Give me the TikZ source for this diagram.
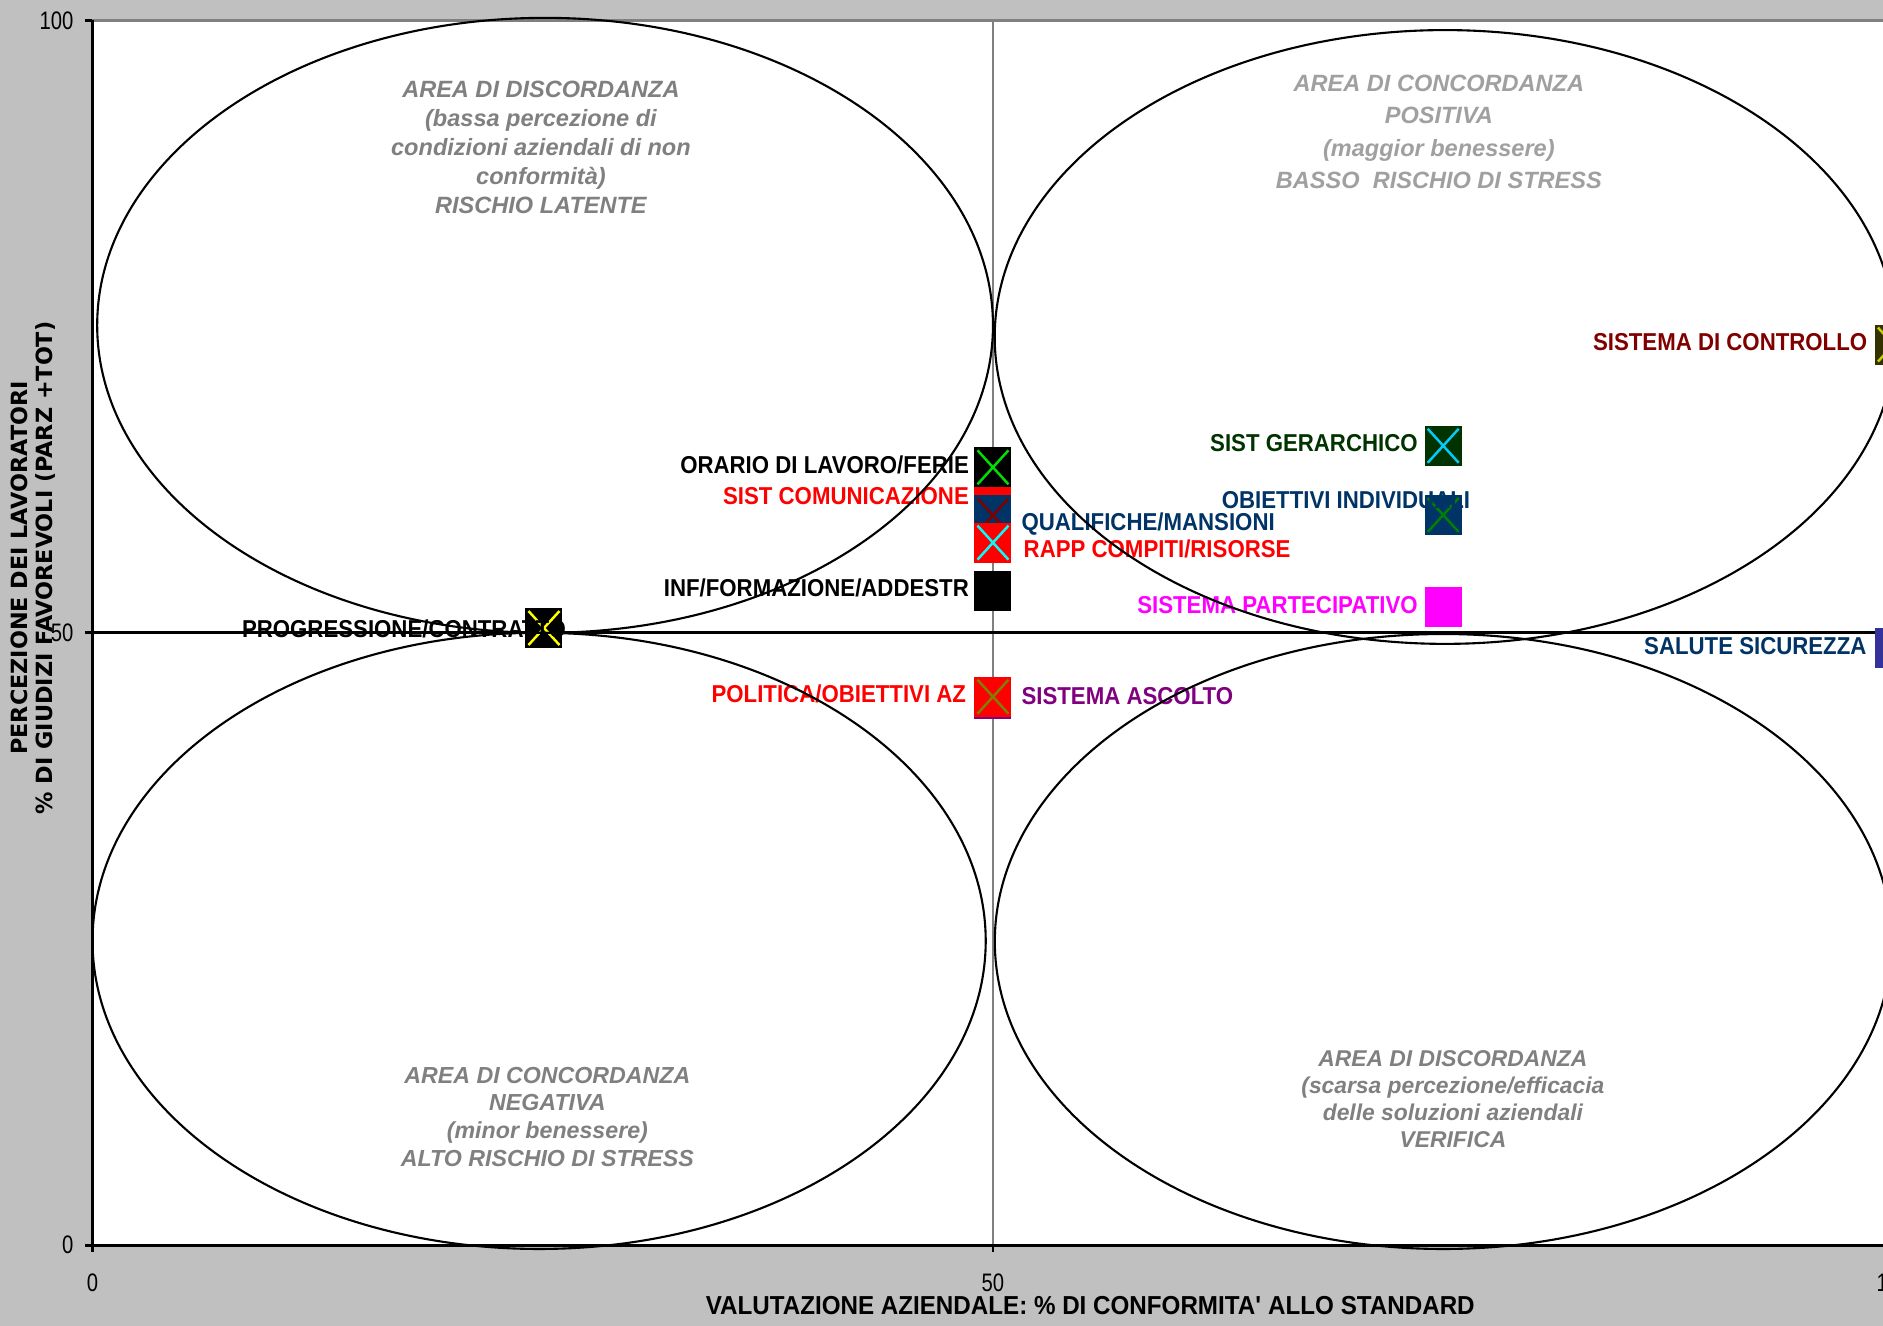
\documentclass[tikz,border=0pt]{standalone}
\usepackage{fontspec}
\setmainfont{Liberation Sans}
\newfontfamily\lblfont[FakeStretch=0.91]{Liberation Sans}
\newfontfamily\titlefontx[FakeStretch=0.93]{Liberation Sans}
\newfontfamily\tickfont[FakeStretch=0.8]{Liberation Sans}
\newfontfamily\titlefont{DejaVu Sans}
\usepackage{xcolor}
\usepackage{tikz}

\definecolor{bggray}{HTML}{C0C0C0}
\definecolor{axgray}{HTML}{808080}
\definecolor{txgray}{HTML}{808080}
\definecolor{txlight}{HTML}{A0A0A0}
\definecolor{navyb}{HTML}{003366}
\definecolor{dkgreen}{HTML}{003300}
\definecolor{dkred}{HTML}{800000}
\definecolor{purp}{HTML}{800080}
\definecolor{olivedk}{HTML}{333300}
\definecolor{olivex}{HTML}{808000}
\definecolor{bluesq}{HTML}{333399}
\definecolor{skyx}{HTML}{00CCFF}
\definecolor{greenx}{HTML}{00E000}
\definecolor{dkgreenx}{HTML}{008000}
\definecolor{redpt}{HTML}{FF0000}
\definecolor{magpt}{HTML}{FF00FF}
\definecolor{cyanx}{HTML}{00FFFF}
\definecolor{yellowx}{HTML}{FFFF00}
\definecolor{yellowdk}{HTML}{CCCC00}

\begin{document}
\begin{tikzpicture}[
    x=0.1801cm, y=0.1225cm,
    line width=0.6pt,
    lbl/.style={font=\lblfont\bfseries\fontsize{6.95}{8}\selectfont, inner sep=0pt, text height=0.175cm, text depth=0pt},
    pt/.style={fill=#1, draw=none, inner sep=0pt, minimum width=0.37cm, minimum height=0.40cm},
    xmk/.style={path picture={\draw[#1, line width=0.7pt]
        ([shift={(0.03cm,0.03cm)}]path picture bounding box.south west) -- ([shift={(-0.03cm,-0.03cm)}]path picture bounding box.north east)
        ([shift={(0.03cm,-0.03cm)}]path picture bounding box.north west) -- ([shift={(-0.03cm,0.03cm)}]path picture bounding box.south east);}},
    area/.style={align=center, inner sep=0pt, font=\bfseries\itshape\fontsize{6.7}{8.2}\selectfont},
    ticklbl/.style={font=\tickfont\fontsize{7.2}{8}\selectfont, inner sep=0pt}
  ]
    \useasboundingbox (-5.136,-6.588) rectangle (99.42,101.66);
    \fill[bggray] (-5.136,-6.588) rectangle (99.42,101.66);
    \fill[white] (0,0) rectangle (100,100);

    % grid and axes
    \draw[axgray, line width=0.55pt] (50,0) -- (50,100);
    \draw[axgray, line width=0.8pt] (0,100) -- (100,100);
    \draw[line width=0.75pt] (0,50) -- (100,50);
    \draw[line width=0.8pt] (0,100) -- (0,0) -- (100,0);
    \foreach \v in {0,50,100} {
      \draw[line width=0.8pt] (0,\v) -- (-0.44,\v);
      \draw[line width=0.8pt] (\v,0) -- (\v,-0.57);
      \node[ticklbl, anchor=east] (yt\v) at (-1.0,\v) {\v};
      \node[ticklbl] (xt\v) at (\v,-3.05) {\v};
    }

    % axis titles
    \node[font=\titlefontx\bfseries\fontsize{7.4}{8}\selectfont, inner sep=0pt] (xtitle) at (55.4,-4.9) {VALUTAZIONE AZIENDALE: \% DI CONFORMITA\textquotesingle\ ALLO STANDARD};
    \node[rotate=90, font=\titlefont\bfseries\fontsize{6.35}{7}\selectfont, inner sep=0pt] (ytitlea) at (-4.07,55.3) {PERCEZIONE DEI LAVORATORI};
    \node[rotate=90, font=\titlefont\bfseries\fontsize{6.35}{7}\selectfont, inner sep=0pt] (ytitleb) at (-2.60,55.3) {\% DI GIUDIZI FAVOREVOLI (PARZ +TOT)};

    % markers
    \node[pt=redpt] (comunic) at (50,60.24) {};
    \node[pt=navyb, xmk=dkred] (qualif) at (50,59.59) {};
    \node[pt=redpt, xmk=cyanx] (rapp) at (50,57.36) {};
    \node[pt=black, xmk=greenx] (orario) at (50,63.51) {};
    \node[pt=black] (inf) at (50,53.43) {};
    \node[pt=purp] (ascolto) at (50,44.57) {};
    \node[pt=redpt, xmk=olivex] (politica) at (50,44.78) {};
    \node[pt=black, xmk=yellowx] (progr) at (25.07,50.39) {};
    \node[pt=dkgreen, xmk=skyx] (gerarch) at (75,65.27) {};
    \node[pt=navyb, xmk=dkgreenx] (obiett) at (75,59.62) {};
    \node[pt=magpt] (partecip) at (75,52.12) {};
    \node[pt=olivedk, xmk=yellowdk] (controllo) at (100,73.53) {};
    \node[pt=bluesq] (salute) at (100,48.72) {};

    % labels
    \node[lbl, anchor=east] (lorario) at (48.72,63.76) {ORARIO DI LAVORO/FERIE};
    \node[lbl, anchor=east, text=redpt] (lcomunic) at (48.72,61.18) {SIST COMUNICAZIONE};
    \node[lbl, anchor=west, text=navyb] (lqualif) at (51.53,59.10) {QUALIFICHE/MANSIONI};
    \node[lbl, anchor=west, text=redpt] (lrapp) at (51.65,56.87) {RAPP COMPITI/RISORSE};
    \node[lbl, anchor=east] (linf) at (48.72,53.66) {INF/FORMAZIONE/ADDESTR};
    \node[lbl, anchor=east, text=redpt] (lpolitica) at (48.56,45.02) {POLITICA/OBIETTIVI AZ};
    \node[lbl, anchor=west, text=purp] (lascolto) at (51.53,44.88) {SISTEMA ASCOLTO};
    \node[lbl, anchor=east] (lprogr) at (26.35,50.31) {PROGRESSIONE/CONTRATTO};
    \node[lbl, anchor=east, text=dkgreen] (lgerarch) at (73.64,65.53) {SIST GERARCHICO};
    \node[lbl, text=navyb] (lobiett) at (69.60,60.84) {OBIETTIVI INDIVIDUALI};
    \node[lbl, anchor=east, text=magpt] (lpartecip) at (73.64,52.29) {SISTEMA PARTECIPATIVO};
    \node[lbl, anchor=east, text=dkred] (lcontrollo) at (98.60,73.80) {SISTEMA DI CONTROLLO};
    \node[lbl, anchor=east, text=navyb] (lsalute) at (98.56,48.92) {SALUTE SICUREZZA};

    % quadrant notes
    \node[area, text=txgray] (notetl) at (24.9,89.62) {AREA DI DISCORDANZA\\(bassa percezione di\\condizioni aziendali di non\\conformità)\\RISCHIO LATENTE};
    \node[area, text=txlight, font=\bfseries\itshape\fontsize{6.7}{9.16}\selectfont] (notetr) at (74.76,90.9) {AREA DI CONCORDANZA\\POSITIVA\\(maggior benessere)\\BASSO\ \ RISCHIO DI STRESS};
    \node[area, text=txgray, font=\bfseries\itshape\fontsize{6.6}{7.9}\selectfont] (notebl) at (25.26,10.5) {AREA DI CONCORDANZA\\NEGATIVA\\(minor benessere)\\ALTO RISCHIO DI STRESS};
    \node[area, text=txgray, font=\bfseries\itshape\fontsize{6.5}{7.7}\selectfont] (notebr) at (75.54,11.9) {AREA DI DISCORDANZA\\(scarsa percezione/efficacia\\delle soluzioni aziendali\\VERIFICA};

    % ellipses
    \draw (25.13,75.1) ellipse [x radius=4.479cm, y radius=3.075cm];
    \draw (75.1,74.15) ellipse [x radius=4.503cm, y radius=3.069cm];
    \draw (24.8,24.85) ellipse [x radius=4.466cm, y radius=3.081cm];
    \draw (75.0,24.8) ellipse [x radius=4.484cm, y radius=3.075cm];
  \end{tikzpicture}
\end{document}
